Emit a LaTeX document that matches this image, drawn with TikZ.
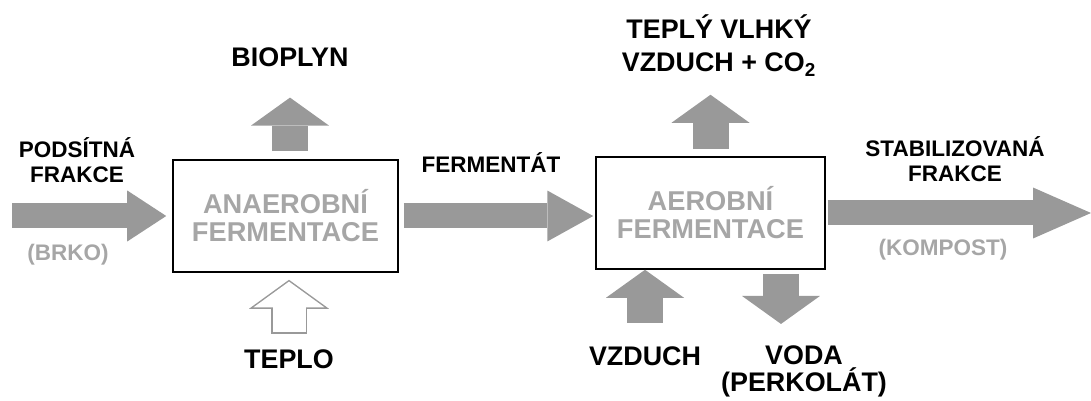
\documentclass[tikz,border=0pt]{standalone}
\usepackage{fontspec}
\setmainfont{Liberation Sans}
\usepackage{tikz}
\usetikzlibrary{arrows.meta}
\definecolor{flowgray}{HTML}{999999}
\definecolor{stagegray}{HTML}{A6A6A6}

\begin{document}
\begin{tikzpicture}[x=0.02cm,y=-0.02cm,
        stage/.style={draw,line width=0.9pt,minimum width=4.5cm,
            minimum height=2.24cm,align=center,text=stagegray,
            font=\fontsize{15.5}{15.9}\selectfont\bfseries},
        biglabel/.style={inner sep=0pt,anchor=base,align=center,
            font=\fontsize{15.3}{19.3}\selectfont\bfseries},
        smalllabel/.style={inner sep=0pt,anchor=base,align=center,
            font=\fontsize{12.8}{14.7}\selectfont\bfseries},
        graylabel/.style={smalllabel,text=stagegray},
        flowh/.style={flowgray,line width=0.5cm,
            -{Triangle[width=1.02cm,length=#1,line width=0pt]}},
        flowv/.style={flowgray,line width=0.72cm,
            -{Triangle[width=1.56cm,length=0.56cm,line width=0pt]}},
        heat/.style={flowgray,line width=0.72cm,
            -{Triangle[width=1.6cm,length=0.58cm,line width=0pt]}},
        heatcore/.style={white,line width=0.66cm,
            -{Triangle[width=1.415cm,length=0.513cm,line width=0pt]}}]
            \useasboundingbox (0,0) rectangle (1091,401);
            \node[stage] (anaerob) at (285.5,216) {ANAEROBNÍ\\FERMENTACE};
            \node[stage,minimum width=4.58cm] (aerob) at (710.5,213)
                {AEROBNÍ\\FERMENTACE};
            \node[smalllabel] (podsitna) at (77,183) {PODSÍTNÁ\\FRAKCE};
            \node[graylabel] (brko) at (68,261) {(BRKO)};
            \node[biglabel] (bioplyn) at (290,67) {BIOPLYN};
            \node[biglabel] (teplo) at (289,369) {TEPLO};
            \node[smalllabel] (fermentat) at (491,173) {FERMENTÁT};
            \node[biglabel] (vlhky) at (719,72)
                {TEPLÝ VLHKÝ\\VZDUCH + CO\textsubscript{2}};
            \node[smalllabel] (stabil) at (955,182) {STABILIZOVANÁ\\FRAKCE};
            \node[graylabel] (kompost) at (943,256) {(KOMPOST)};
            \node[biglabel] (vzduch) at (645,366) {VZDUCH};
            \node[biglabel,font=\fontsize{15.3}{15.9}\selectfont\bfseries]
                (voda) at (804,392) {VODA\\(PERKOLÁT)};
            \coordinate (vstup) at (12,216);
            \coordinate (vystup) at (1091,214);
            \draw[flowh=0.78cm,shorten >=0.12cm] (vstup) -- (anaerob.west);
            \draw[flowh=0.92cm,shorten <=0.1cm,shorten >=0.04cm]
                (anaerob.east) -- (anaerob.east -| aerob.west);
            \draw[flowh=1.16cm,shorten <=0.04cm]
                (aerob.east) -- (aerob.east -| vystup);
            \draw[flowv,shorten <=0.16cm,shorten >=0.6cm]
                (bioplyn.south |- anaerob.north) -- (bioplyn.south);
            \draw[flowv,shorten <=0.14cm,shorten >=0.36cm]
                (aerob.north) -- (aerob.north |- vlhky.south);
            \draw[flowv,shorten <=0.48cm]
                (vzduch.north) -- (vzduch.north |- aerob.south);
            \draw[flowv,shorten <=0.08cm,shorten >=0.42cm]
                ([xshift=1.41cm]aerob.south) -- ([xshift=1.41cm]aerob.south |- voda.north);
            \draw[heat,shorten <=0.32cm,shorten >=0.14cm]
                (teplo.north) -- (teplo.north |- anaerob.south);
            \draw[heatcore,shorten <=0.35cm,shorten >=0.177cm]
                (teplo.north) -- (teplo.north |- anaerob.south);
        \end{tikzpicture}
\end{document}
